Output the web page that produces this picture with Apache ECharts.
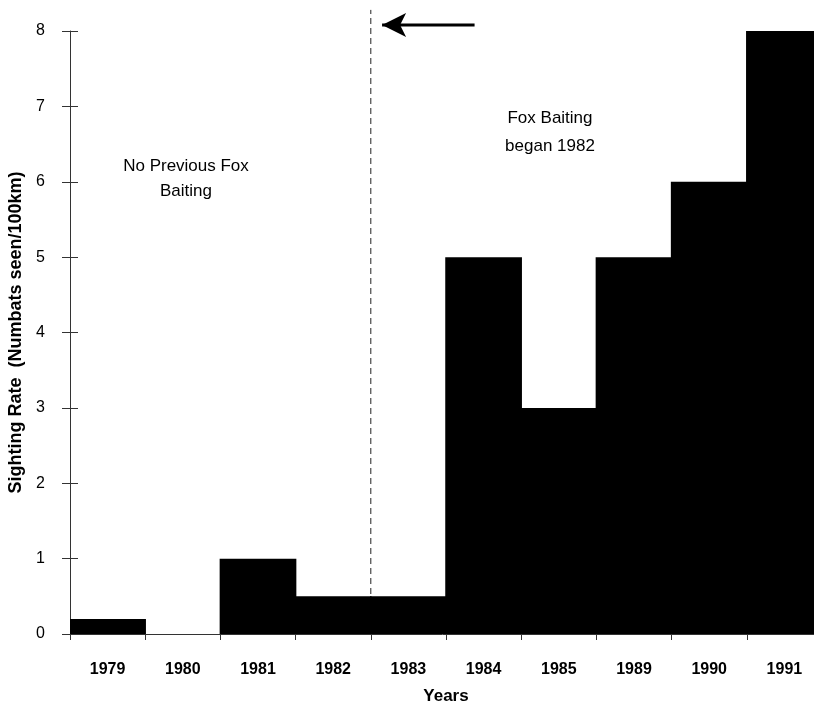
<!DOCTYPE html>
<html><head><meta charset="utf-8">
<script src="https://cdn.jsdelivr.net/npm/echarts@6/dist/echarts.min.js"></script>
<style>html,body{margin:0;padding:0;background:#fff}#c{width:814px;height:702px}</style>
</head><body><div id="c"></div>
<script>
const categories = ['1979','1980','1981','1982','1983','1984','1985','1989','1990','1991'];
const sightingRate = [0.2, 0, 1, 0.5, 0.5, 5, 3, 5, 6, 8];
const yTicks = [0,1,2,3,4,5,6,7,8];
const baitingStartBoundary = 4; // boundary between 1982 and 1983 (bars 0..10)
const arrowTail = [5.38, 8.08];
const arrowHeadCenter = [4.15, 8.08];
const dashTop = 8.28;

const font = '"Liberation Sans", Arial, sans-serif';
const chart = echarts.init(document.getElementById('c'), null, {renderer:'canvas'});
chart.setOption({
  animation:false,
  backgroundColor:'#fff',
  grid:{left:70, right:-8, top:31, bottom:68, containLabel:false, outerBoundsMode:'none'},
  xAxis:[{
    type:'category', data:categories,
    axisLine:{lineStyle:{color:'#333', width:1}},
    axisTick:{show:true, length:6, lineStyle:{color:'#333'}},
    axisLabel:{color:'#000', fontFamily:font, fontWeight:'bold', fontSize:16, margin:28},
    splitLine:{show:false}, splitArea:{show:false},
    name:'Years', nameLocation:'middle', nameGap:54,
    nameTextStyle:{color:'#000', fontFamily:font, fontWeight:'bold', fontSize:17}
  },{
    type:'value', min:0, max:10, show:false
  }],
  yAxis:[{
    type:'value', min:0, max:8, interval:1,
    axisLine:{show:true, lineStyle:{color:'#333'}},
    axisTick:{show:true, length:8, lineStyle:{color:'#333'}},
    axisLabel:{color:'#000', fontFamily:font, fontSize:16, margin:25,
      formatter:v=>yTicks.includes(v)?String(v):''},
    splitLine:{show:false},
    name:'Sighting Rate  (Numbats seen/100km)', nameLocation:'middle', nameGap:40,
    nameTextStyle:{color:'#000', fontFamily:font, fontWeight:'bold', fontSize:18}
  },{
    type:'value', min:0, max:8, interval:1, position:'left',
    axisLine:{show:false},
    axisTick:{show:true, inside:true, length:8, lineStyle:{color:'#333'}},
    axisLabel:{show:false}, splitLine:{show:false}
  }],
  series:[{
    type:'bar', data:sightingRate, barWidth:'102%', z:3,
    itemStyle:{color:'#000'}, silent:true
  },{
    type:'line', xAxisIndex:1, yAxisIndex:0, clip:false, silent:true, z:1,
    data:[[baitingStartBoundary,0],[baitingStartBoundary,dashTop]],
    showSymbol:false, symbol:'none',
    lineStyle:{color:'#222', type:[6,4], width:1}
  },{
    type:'line', xAxisIndex:1, yAxisIndex:0, clip:false, silent:true,
    data:[
      {value:arrowTail, symbol:'none'},
      {value:arrowHeadCenter, symbol:'arrow', symbolSize:[18,24], symbolRotate:90}
    ],
    showSymbol:true, showAllSymbol:true,
    itemStyle:{color:'#000', borderWidth:0},
    lineStyle:{color:'#000', width:3}
  }],
  graphic:[
    {type:'text', x:186, y:154, style:{text:'No Previous Fox\nBaiting', align:'center', textAlign:'center', fill:'#000', font:'17px '+font, lineHeight:25}},
    {type:'text', x:550, y:104, style:{text:'Fox Baiting\nbegan 1982', align:'center', textAlign:'center', fill:'#000', font:'17px '+font, lineHeight:28}}
  ]
});
</script></body></html>
